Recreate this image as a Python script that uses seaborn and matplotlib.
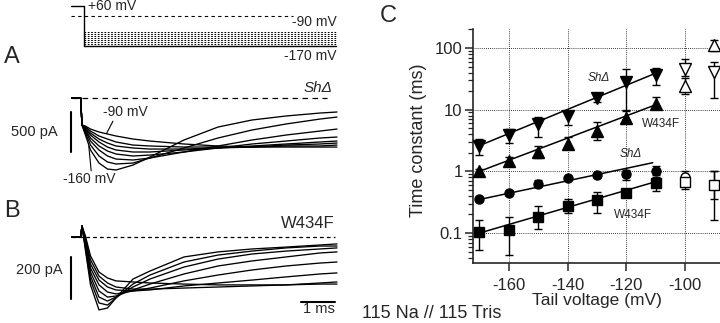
import numpy as np
import pandas as pd
import matplotlib
matplotlib.use('Agg')
import matplotlib.pyplot as plt
from matplotlib.ticker import FixedLocator, FuncFormatter, LogLocator, NullFormatter
import seaborn as sns

sns.set_style('ticks')
plt.rcParams['font.family'] = ['Liberation Sans', 'DejaVu Sans']
plt.rcParams['axes.unicode_minus'] = False

# ---------------- data ----------------
# Panel A protocol (mV)
prepulse_mV = 60
holding_mV = -90
tail_mV = [-100, -110, -120, -130, -140, -150, -160, -170]

# Traces: time (ms) and current (pA) for tails at each voltage
trace_time_ms = [-0.3, -0.04, 0, 0.1, 0.25, 0.5, 0.75, 1, 1.5, 2, 3, 4, 5, 6, 7, 7.5]
trace_voltages = [-90, -100, -110, -120, -130, -140, -150, -160]

shd_pA = {
    -90:  [0, 0, -338, -350, -388, -425, -450, -475, -513, -538, -575, -600, -613, -613, -613, -613],
    -100: [0, 0, -338, -363, -413, -475, -513, -550, -588, -600, -613, -613, -613, -600, -600, -588],
    -110: [0, 0, -338, -375, -438, -513, -563, -600, -625, -638, -638, -625, -613, -588, -575, -563],
    -120: [0, 0, -338, -388, -463, -550, -613, -650, -675, -675, -650, -625, -600, -575, -550, -538],
    -130: [0, 0, -338, -400, -500, -600, -663, -700, -725, -713, -675, -625, -575, -538, -500, -488],
    -140: [0, 0, -338, -413, -538, -650, -725, -763, -775, -750, -675, -600, -525, -463, -413, -388],
    -150: [0, 0, -338, -438, -588, -725, -800, -825, -813, -750, -625, -500, -400, -325, -263, -238],
    -160: [0, 0, -338, -463, -650, -813, -888, -900, -838, -738, -525, -363, -275, -225, -188, -175],
}
w434f_pA = {
    -90:  [0, 0, 52, 5, -90, -167, -195, -209, -214, -219, -224, -228, -228, -228, -224, -224],
    -100: [0, 0, 52, -5, -109, -186, -219, -238, -248, -248, -243, -238, -233, -228, -219, -214],
    -110: [0, 0, 52, -14, -129, -205, -238, -252, -257, -252, -233, -219, -205, -190, -176, -171],
    -120: [0, 0, 52, -24, -148, -228, -262, -271, -257, -243, -209, -181, -157, -138, -124, -119],
    -130: [0, 0, 52, -33, -167, -257, -286, -281, -252, -224, -176, -138, -114, -95, -76, -71],
    -140: [0, 0, 52, -43, -186, -286, -305, -286, -238, -200, -143, -105, -81, -67, -57, -52],
    -150: [0, 0, 52, -52, -205, -314, -324, -290, -224, -181, -119, -86, -67, -52, -43, -43],
    -160: [0, 0, 52, -62, -228, -347, -338, -290, -200, -162, -95, -71, -57, -48, -38, -33],
}

# Panel C: time constants (ms)
tail_v = [-170, -160, -150, -140, -130, -120, -110]
sh_slow = [2.6, 3.85, 5.8, 7.8, 15.5, 28, 36]
sh_slow_lo = [1.85, 2.9, 3.65, 5.6, 13.5, 9.9, 25]
sh_slow_hi = [3.35, 4.8, 7.7, 8.8, 17.5, 45, 47]
w_slow = [1.0, 1.45, 2.06, 2.8, 4.5, 7.2, 12.3]
w_slow_lo = [0.92, 1.25, 1.65, 2.3, 3.2, 6.3, 10.8]
w_slow_hi = [1.08, 1.7, 2.6, 3.6, 6.3, 9.5, 16]
sh_fast = [0.35, 0.45, 0.63, 0.78, 0.86, 0.9, 1.02]
sh_fast_lo = [0.33, 0.42, 0.55, 0.74, 0.82, 0.72, 0.88]
sh_fast_hi = [0.37, 0.48, 0.72, 0.82, 0.9, 1.07, 1.2]
w_fast = [0.105, 0.113, 0.18, 0.27, 0.34, 0.44, 0.65]
w_fast_lo = [0.053, 0.044, 0.115, 0.21, 0.21, 0.39, 0.48]
w_fast_hi = [0.16, 0.185, 0.27, 0.35, 0.47, 0.5, 0.82]

open_v = [-100, -90]
sh_slow_open = [45, 41]
sh_slow_open_lo = [35, 15.4]
sh_slow_open_hi = [66, 60]
w_slow_open = [24, 112]
w_slow_open_lo = [18, 90]
w_slow_open_hi = [32, 135]
sh_fast_open = [0.8, 0.6]
sh_fast_open_lo = [0.62, 0.36]
sh_fast_open_hi = [1.0, 1.0]
w_fast_open = [0.66, 0.6]
w_fast_open_lo = [0.52, 0.16]
w_fast_open_hi = [0.8, 1.0]

# exponential fits: (voltage endpoints, tau endpoints)
fit_sh_slow = ([-171, -110], [2.5, 39])
fit_w_slow = ([-170, -110], [1.0, 12.0])
fit_sh_fast = ([-170, -111], [0.35, 1.38])
fit_w_fast = ([-170, -110], [0.1, 0.68])

# ---------------- figure ----------------
W, H = 720, 323
fig = plt.figure(figsize=(7.2, 3.23), dpi=100)


def px_axes(x0, y0, x1, y1):
    return fig.add_axes([x0 / W, 1 - y1 / H, (x1 - x0) / W, (y1 - y0) / H])


def ftext(x, y, s, **kw):
    fig.text(x / W, 1 - y / H, s, **kw)


T_XLIM = ((60 - 82) / 34, (340 - 82) / 34)
t_step = 0.06
t_end = 7.47

# ---- Panel A protocol ----
axp = px_axes(60, 6, 340, 46)
fwd_a = [-170, -100, -90, 60]
fwd_b = [0, 14, 30.3, 40]
axp.set_yscale('function', functions=(lambda v: np.interp(v, fwd_a, fwd_b),
                                      lambda y: np.interp(y, fwd_b, fwd_a)))
axp.set_xlim(*T_XLIM)
axp.set_ylim(-170, 60)
axp.axis('off')
axp.plot([-0.32, t_step, t_step], [prepulse_mV, prepulse_mV, tail_mV[-1]],
         color='black', lw=1.0, clip_on=False)
axp.plot([-0.32, 6.2], [holding_mV, holding_mV], color='black', lw=0.8,
         dashes=(3, 3), clip_on=False)
for v in tail_mV:
    if v == tail_mV[-1]:
        axp.plot([t_step, t_end], [v, v], color='black', lw=1.0, clip_on=False)
    else:
        axp.plot([t_step, t_end], [v, v], color='black', lw=0.75, dashes=(1.6, 1.6),
                 clip_on=False)

# ---- Panel A traces ----
def traces_df(d):
    rows = []
    for v in trace_voltages:
        for t, i in zip(trace_time_ms, d[v]):
            rows.append((v, t, i))
    return pd.DataFrame(rows, columns=['V', 't', 'I'])

axa = px_axes(60, 85, 340, 182)
axa.set_xlim(*T_XLIM)
axa.set_ylim((98 - 182) * 12.5, (98 - 85) * 12.5)
axa.plot([-0.29, 7.2], [0, 0], color='black', lw=0.9, dashes=(4.5, 3.5))
sns.lineplot(data=traces_df(shd_pA), x='t', y='I', units='V', estimator=None,
             color='black', lw=0.95, sort=False, ax=axa, legend=False)
axa.plot([-0.32, -0.32], [-175, -675], color='black', lw=1.5)
axa.plot([0.91, 0.72], [-290, -445], color='black', lw=0.8)
axa.plot([0.27, 0.2], [-910, -600], color='black', lw=0.8)
axa.axis('off')

# ---- Panel B traces ----
axb = px_axes(60, 215, 340, 323)
axb.set_xlim(*T_XLIM)
axb.set_ylim((237 - 323) * 4.76, (237 - 215) * 4.76)
axb.plot([-0.29, 7.44], [0, 0], color='black', lw=0.9, dashes=(3, 2.5))
sns.lineplot(data=traces_df(w434f_pA), x='t', y='I', units='V', estimator=None,
             color='black', lw=0.95, sort=False, ax=axb, legend=False)
axb.plot([-0.32, -0.32], [-94, -294], color='black', lw=1.5)
axb.plot([6.44, 7.44], [-309, -309], color='black', lw=1.5)
axb.axis('off')

# ---- Panel C ----
axc = px_axes(473, 29, 720, 263)

fit_rows = []
for name, (vv, tt) in [('a', fit_sh_slow), ('b', fit_w_slow), ('c', fit_sh_fast), ('d', fit_w_fast)]:
    for v, t in zip(vv, tt):
        fit_rows.append((name, v, t))
fits = pd.DataFrame(fit_rows, columns=['fit', 'v', 'tau'])
sns.lineplot(data=fits, x='v', y='tau', units='fit', estimator=None, color='black',
             lw=1.1, sort=False, ax=axc, legend=False)

axc.set_yscale('log')
axc.set_xlim(-172.2, -88.1)
axc.set_ylim(0.0327, 203)
sns.despine(ax=axc)
for s in ['left', 'bottom']:
    axc.spines[s].set_linewidth(1.2)
axc.xaxis.set_major_locator(FixedLocator([-160, -140, -120, -100]))
axc.yaxis.set_major_locator(FixedLocator([0.1, 1, 10, 100]))
axc.yaxis.set_major_formatter(FuncFormatter(lambda v, p: '%g' % v))
axc.yaxis.set_minor_locator(LogLocator(base=10, subs=np.arange(2, 10)))
axc.yaxis.set_minor_formatter(NullFormatter())
axc.tick_params(axis='x', which='major', direction='out', length=6, width=1.1,
                pad=5, labelsize=12)
axc.tick_params(axis='y', which='major', direction='out', length=6, width=1.1,
                pad=1.5, labelsize=12)
axc.tick_params(axis='y', which='minor', direction='out', length=3.5, width=0.9)
axc.grid(True, which='major', color='black', lw=0.6, ls=(0, (1, 1.5)))
axc.set_xlabel('')
axc.set_ylabel('')


def eb(v, y, lo, hi, marker, ms, filled):
    y = np.array(y)
    yerr = [y - np.array(lo), np.array(hi) - y]
    axc.errorbar(v, y, yerr=yerr, fmt=marker, ms=ms, mfc='black' if filled else 'white',
                 mec='black', mew=1.0, ecolor='black', elinewidth=1.0, capsize=3,
                 capthick=1.0, linestyle='none', zorder=3, clip_on=False)


eb(tail_v, sh_slow, sh_slow_lo, sh_slow_hi, 'v', 8, True)
eb(tail_v, w_slow, w_slow_lo, w_slow_hi, '^', 8, True)
eb(tail_v, sh_fast, sh_fast_lo, sh_fast_hi, 'o', 6.5, True)
eb(tail_v, w_fast, w_fast_lo, w_fast_hi, 's', 6.5, True)
eb(open_v, sh_slow_open, sh_slow_open_lo, sh_slow_open_hi, 'v', 8, False)
eb(open_v, w_slow_open, w_slow_open_lo, w_slow_open_hi, '^', 8, False)
eb(open_v, sh_fast_open, sh_fast_open_lo, sh_fast_open_hi, 'o', 6.5, False)
eb(open_v, w_fast_open, w_fast_open_lo, w_fast_open_hi, 's', 6.5, False)

axc.text(-129.5, 32.6, 'ShΔ', style='italic', fontsize=8.5, ha='center', va='center')
axc.text(-114.6, 5.86, 'W434F', fontsize=8.5, ha='left', va='center')
axc.text(-118.5, 1.92, 'ShΔ', style='italic', fontsize=8.5, ha='center', va='center')
axc.text(-124.1, 0.196, 'W434F', fontsize=8.5, ha='left', va='center')

# ---- figure texts ----
ftext(12, 57, 'A', fontsize=17, ha='center', va='center')
ftext(12, 211, 'B', fontsize=17, ha='center', va='center')
ftext(388, 16, 'C', fontsize=17, ha='center', va='center')
ftext(88, 6, '+60 mV', fontsize=10, ha='left', va='center')
ftext(337, 22, '-90 mV', fontsize=10, ha='right', va='center')
ftext(337, 56, '-170 mV', fontsize=10, ha='right', va='center')
ftext(332, 88, 'ShΔ', fontsize=11, style='italic', ha='right', va='center')
ftext(58, 132, '500 pA', fontsize=10.5, ha='right', va='center')
ftext(103, 112, '-90 mV', fontsize=10, ha='left', va='center')
ftext(63, 179, '-160 mV', fontsize=10, ha='left', va='center')
ftext(335, 224, 'W434F', fontsize=12, ha='right', va='center')
ftext(63, 270, '200 pA', fontsize=10.5, ha='right', va='center')
ftext(319, 309, '1 ms', fontsize=10.5, ha='center', va='center')
ftext(362, 313, '115 Na // 115 Tris', fontsize=13, ha='left', va='center')
ftext(418, 140, 'Time constant (ms)', fontsize=13, rotation=90, ha='center', va='center')
ftext(597, 300, 'Tail voltage (mV)', fontsize=12.5, ha='center', va='center')

fig.savefig('out.png', dpi=100)
